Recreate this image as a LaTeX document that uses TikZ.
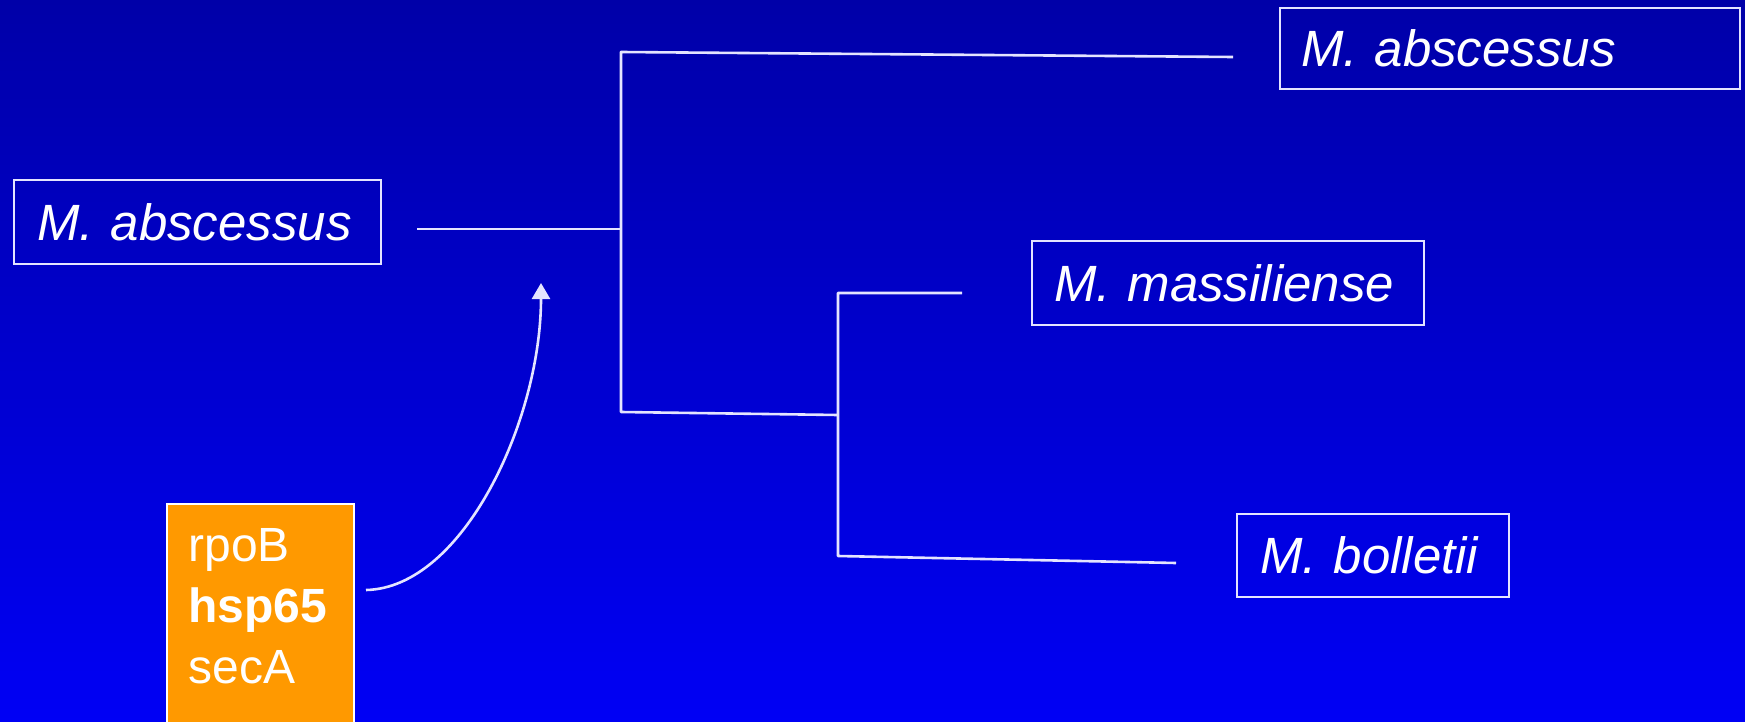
\documentclass[tikz,border=0pt]{standalone}
\usepackage{fontspec}
\setmainfont{Liberation Sans}
\usetikzlibrary{arrows.meta}
\definecolor{bgtop}{RGB}{0,0,168}
\definecolor{bgbot}{RGB}{0,0,245}
\definecolor{lin}{RGB}{228,228,255}
\definecolor{orng}{RGB}{255,153,0}
\begin{document}
\begin{tikzpicture}[x=0.5pt,y=-0.5pt,
  lbl/.style={draw=lin, line width=1pt, text=white, anchor=west,
    font=\fontsize{25.5}{30}\selectfont\itshape, inner ysep=0pt, align=left},
  br/.style={draw=lin, line width=1.3pt, line join=round},
  genefont/.style={font=\fontsize{24}{30.5}\selectfont, text=white}
]
\fill[top color=bgtop, bottom color=bgbot] (0,0) rectangle (1745,722);
\useasboundingbox (0,0) rectangle (1745,722);

% labels
\node[lbl, inner xsep=11.5pt, text width=160.5pt, minimum height=42pt] (root) at (13,222) {M. abscessus};
\node[lbl, inner xsep=10.5pt, text width=209pt, minimum height=40.5pt] (abs) at (1279,48.5) {M. abscessus};
\node[lbl, inner xsep=11pt, text width=174pt, minimum height=42pt] (mas) at (1031,283) {M. massiliense};
\node[lbl, inner xsep=11.5pt, text width=113pt, minimum height=41.5pt] (bol) at (1236,555.5) {M. bolletii};

% gene box
\node[fill=orng, draw=white, line width=0.8pt, anchor=north west, minimum width=93.5pt, minimum height=130pt, inner sep=0pt] (genebox) at (166,503) {};
\node[genefont, anchor=north west, inner sep=0pt, align=left] (genes) at (188,527.6) {rpoB\\\textbf{hsp65}\\secA};

% tree coordinates
\coordinate (rs) at (417,229);
\coordinate (n1) at (621,229);
\coordinate (n1t) at (621,52);
\coordinate (n1b) at (621,412);
\coordinate (ta) at (1233,57);
\coordinate (n2) at (838,415);
\coordinate (n2t) at (838,293);
\coordinate (n2b) at (838,556);
\coordinate (tm) at (962,293);
\coordinate (tb) at (1176,563);

\draw[br] (rs) -- (n1);
\draw[br] (ta) -- (n1t) -- (n1b) -- (n2);
\draw[br] (tm) -- (n2t) -- (n2b) -- (tb);

% arrow
\coordinate (cs) at (366,590);
\coordinate (ce) at (541,283);
\draw[br, -{Triangle[width=9pt,length=8pt]}] (cs) .. controls (463,588) and (541,420) .. (ce);
\end{tikzpicture}
\end{document}
